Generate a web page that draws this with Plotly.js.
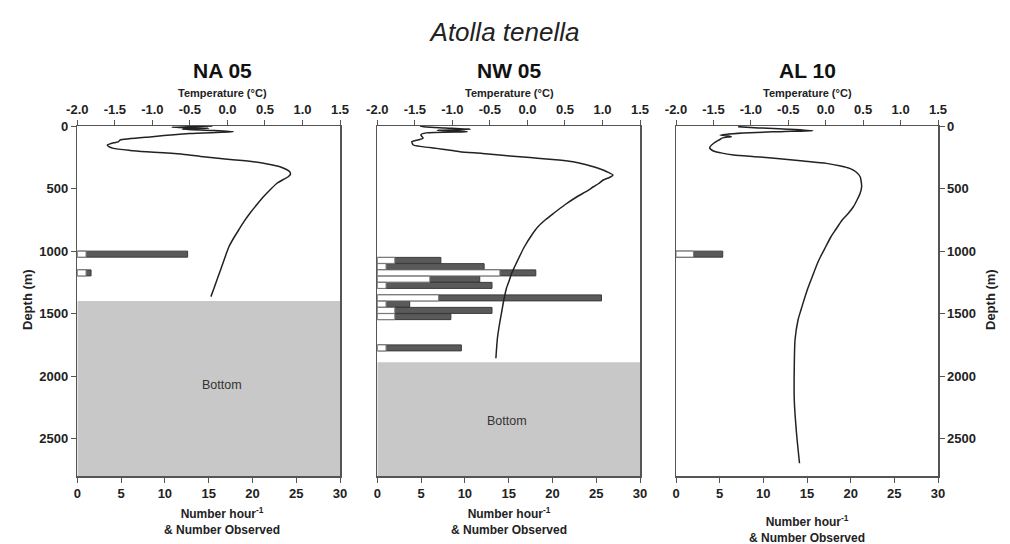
<!DOCTYPE html>
<html>
<head>
<meta charset="utf-8">
<script src="https://cdn.plot.ly/plotly-3.0.1.min.js"></script>
<style>html,body{margin:0;padding:0;background:#fff;}#chart{width:1010px;height:544px;}</style>
</head>
<body>
<div id="chart"></div>
<script>
// ---------- data ----------
const panelNames = ['NA 05', 'NW 05', 'AL 10'];
const depthTicks = [0, 500, 1000, 1500, 2000, 2500];
const countTicks = [0, 5, 10, 15, 20, 25, 30];
const tempTickVals = [-2.0, -1.5, -1.0, -0.5, 0.0, 0.5, 1.0, 1.5];
const tempTickText = ['-2.0', '-1.5', '-1.0', '-0.5', '0.0', '0.5', '1.0', '1.5'];

// temperature profiles (depth m, temperature °C)
const na05Depth = [0, 10, 18, 25, 35, 45, 60, 85, 112, 125, 140, 152, 165, 179, 195, 206, 225, 246, 266, 286, 306, 326, 346, 366, 386, 406, 430, 458, 510, 566, 630, 698, 765, 832, 900, 966, 1030, 1098, 1165, 1232, 1300, 1365];
const na05Temp  = [-0.2, -0.74, -0.25, -0.6, -0.2, 0.08, -0.5, -1.0, -1.43, -1.45, -1.55, -1.6, -1.58, -1.52, -1.3, -1.08, -0.6, -0.32, 0.0, 0.35, 0.55, 0.70, 0.78, 0.83, 0.84, 0.81, 0.74, 0.66, 0.57, 0.48, 0.39, 0.30, 0.22, 0.15, 0.08, 0.02, -0.02, -0.06, -0.10, -0.14, -0.18, -0.22];

const nw05Depth = [0, 8, 15, 25, 35, 45, 55, 70, 98, 110, 125, 152, 165, 179, 192, 206, 219, 232, 246, 259, 272, 286, 306, 326, 346, 366, 392, 410, 432, 460, 486, 525, 566, 630, 698, 750, 806, 870, 966, 1050, 1126, 1178, 1232, 1300, 1378, 1478, 1578, 1700, 1858];
const nw05Temp  = [-1.43, -1.35, -1.1, -0.76, -1.2, -0.8, -1.35, -1.42, -1.39, -1.45, -1.54, -1.52, -1.4, -1.21, -1.05, -0.90, -0.6, -0.37, -0.1, 0.17, 0.42, 0.61, 0.76, 0.88, 0.98, 1.06, 1.14, 1.10, 1.01, 0.95, 0.88, 0.78, 0.66, 0.50, 0.35, 0.24, 0.14, 0.06, -0.04, -0.11, -0.17, -0.21, -0.24, -0.28, -0.31, -0.34, -0.37, -0.40, -0.42];

const al10Depth = [5, 15, 25, 37, 45, 55, 72, 80, 85, 95, 107, 140, 173, 200, 215, 232, 245, 259, 280, 299, 320, 339, 370, 406, 430, 486, 538, 590, 646, 700, 752, 832, 886, 966, 1046, 1098, 1206, 1300, 1392, 1470, 1552, 1712, 1925, 2192, 2458, 2698];
const al10Temp  = [-1.17, -0.9, -0.5, -0.17, -0.6, -1.1, -1.41, -1.3, -1.26, -1.38, -1.41, -1.5, -1.55, -1.50, -1.40, -1.23, -0.95, -0.65, -0.30, 0.01, 0.20, 0.32, 0.41, 0.46, 0.47, 0.48, 0.46, 0.42, 0.37, 0.30, 0.22, 0.13, 0.07, 0.0, -0.07, -0.11, -0.18, -0.24, -0.29, -0.33, -0.37, -0.41, -0.42, -0.42, -0.39, -0.35];

// catch bars (depth bin centre, number hour^-1, number observed)
const naBarDepth = [1025, 1175];
const naRate = [12.6, 1.57];
const naObserved = [1, 1];

const nwBarDepth = [1075, 1125, 1175, 1225, 1275, 1375, 1425, 1475, 1525, 1775];
const nwRate = [7.26, 12.2, 18.1, 11.7, 13.1, 25.6, 3.7, 13.1, 8.4, 9.6];
const nwObserved = [2, 1, 14, 6, 1, 7, 1, 2, 2, 1];

const alBarDepth = [1025];
const alRate = [5.35];
const alObserved = [2];

// seafloor depth per station (null = not reached)
const seafloorDepth = [1400, 1890, null];
const maxDepth = 2800;
const bottomLabelX = [16.5, 14.8, null];
const bottomLabelDepth = [2070, 2360, null];

// ---------- build ----------
const FONT = 'Liberation Sans, Arial, Helvetica, sans-serif';
const AX = '#555';
const profiles = [[na05Depth, na05Temp], [nw05Depth, nw05Temp], [al10Depth, al10Temp]];
const bars = [[naBarDepth, naRate, naObserved], [nwBarDepth, nwRate, nwObserved], [alBarDepth, alRate, alObserved]];
const xDomains = [[77.3/1010, 340/1010], [377.3/1010, 640/1010], [676/1010, 938/1010]];
const yDomain = [68/544, 418/544];
const centers = [222/1010, 509/1010, 807/1010];

const traces = [];
const layout = {
  width: 1010, height: 544,
  margin: {l: 0, r: 0, t: 0, b: 0},
  paper_bgcolor: '#fff', plot_bgcolor: 'rgba(0,0,0,0)',
  showlegend: false,
  barmode: 'overlay',
  font: {family: FONT, color: '#222'},
  title: {text: 'Atolla tenella', x: 0.5, xanchor: 'center', y: 1 - 32/544, yanchor: 'middle',
          font: {family: FONT, size: 26, style: 'italic', color: '#222'}},
  shapes: [], annotations: []
};

for (let i = 0; i < 3; i++) {
  const xt = 'x' + (2*i + 2);
  const xbKey = 'xaxis' + (i === 0 ? '' : 2*i + 1);
  const xtKey = 'xaxis' + (2*i + 2);
  const yKey = 'yaxis' + (i === 0 ? '' : i + 1);
  const ybRef = i === 0 ? 'y' : 'y' + (i + 1);
  const xbRef = i === 0 ? 'x' : 'x' + (2*i + 1);

  // bars: number hour^-1 (dark) under number observed (white)
  traces.push({type: 'bar', orientation: 'h', x: bars[i][1], y: bars[i][0], width: 48,
    xaxis: xbRef, yaxis: ybRef, marker: {color: '#5a5a5a', line: {color: '#3a3a3a', width: 1}}, hoverinfo: 'skip'});
  traces.push({type: 'bar', orientation: 'h', x: bars[i][2], y: bars[i][0], width: 48,
    xaxis: xbRef, yaxis: ybRef, marker: {color: '#ffffff', line: {color: '#777', width: 1}}, hoverinfo: 'skip'});
  // temperature profile
  traces.push({type: 'scatter', mode: 'lines', x: profiles[i][1], y: profiles[i][0],
    xaxis: xt, yaxis: ybRef, line: {color: '#222', width: 1.5, shape: 'spline', smoothing: 0.6}, hoverinfo: 'skip'});

  layout[xbKey] = {domain: xDomains[i], anchor: ybRef, range: [0, 30], tickvals: countTicks,
    ticks: 'outside', ticklen: 5, tickcolor: AX, showline: true, linecolor: AX, linewidth: 1.5,
    showgrid: false, zeroline: false, fixedrange: true,
    tickfont: {family: FONT, size: 13, weight: 'bold', color: '#222'}};
  layout[xtKey] = {overlaying: xbRef, anchor: ybRef, side: 'top', range: [-2.0, 1.5],
    tickvals: tempTickVals, ticktext: tempTickText,
    ticks: 'outside', ticklen: 5, tickcolor: AX, showline: true, linecolor: AX, linewidth: 1.5,
    showgrid: false, zeroline: false, fixedrange: true,
    tickfont: {family: FONT, size: 13, weight: 'bold', color: '#222'}};
  const yax = {domain: yDomain, anchor: xbRef, range: [maxDepth, 0], tickvals: depthTicks,
    showline: true, linecolor: AX, linewidth: 1.5, mirror: true,
    showgrid: false, zeroline: false, fixedrange: true,
    tickfont: {family: FONT, size: 13, weight: 'bold', color: '#222'}};
  if (i === 0) { yax.ticks = 'outside'; yax.ticklen = 5; yax.tickcolor = AX; yax.side = 'left'; }
  else if (i === 1) { yax.ticks = ''; yax.showticklabels = false; }
  else { yax.ticks = 'outside'; yax.ticklen = 5; yax.tickcolor = AX; yax.side = 'right'; }
  layout[yKey] = yax;

  if (seafloorDepth[i] !== null) {
    layout.shapes.push({type: 'rect', xref: xbRef, yref: ybRef, x0: 0, x1: 30, y0: seafloorDepth[i], y1: maxDepth,
      fillcolor: '#c8c8c8', line: {width: 0}, layer: 'below'});
    layout.annotations.push({xref: xbRef, yref: ybRef, x: bottomLabelX[i], y: bottomLabelDepth[i], text: 'Bottom',
      showarrow: false, font: {family: FONT, size: 12.5, color: '#333'}});
  }

  layout.annotations.push({xref: 'paper', yref: 'paper', x: centers[i], y: 1 - 70/544, xanchor: 'center', yanchor: 'middle',
    text: '<b>' + panelNames[i] + '</b>', showarrow: false, font: {family: FONT, size: 21, color: '#111'}});
  layout.annotations.push({xref: 'paper', yref: 'paper', x: centers[i], y: 1 - 93/544, xanchor: 'center', yanchor: 'middle',
    text: '<b>Temperature (°C)</b>', showarrow: false, font: {family: FONT, size: 11, color: '#222'}});
  const by = i === 2 ? 1 - 511/544 : 1 - 503/544;
  layout.annotations.push({xref: 'paper', yref: 'paper', x: centers[i], y: by, xanchor: 'center', yanchor: 'top',
    text: '<b>Number hour<sup>-1</sup><br>& Number Observed</b>', showarrow: false,
    font: {family: FONT, size: 12, color: '#222'}});
}
layout.annotations.push({xref: 'paper', yref: 'paper', x: 27/1010, y: 1 - 300/544, textangle: -90,
  xanchor: 'center', yanchor: 'middle', text: '<b>Depth (m)</b>', showarrow: false, font: {family: FONT, size: 13, color: '#222'}});
layout.annotations.push({xref: 'paper', yref: 'paper', x: 990/1010, y: 1 - 300/544, textangle: -90,
  xanchor: 'center', yanchor: 'middle', text: '<b>Depth (m)</b>', showarrow: false, font: {family: FONT, size: 13, color: '#222'}});

Plotly.newPlot('chart', traces, layout, {staticPlot: true, displayModeBar: false});
</script>
</body>
</html>
